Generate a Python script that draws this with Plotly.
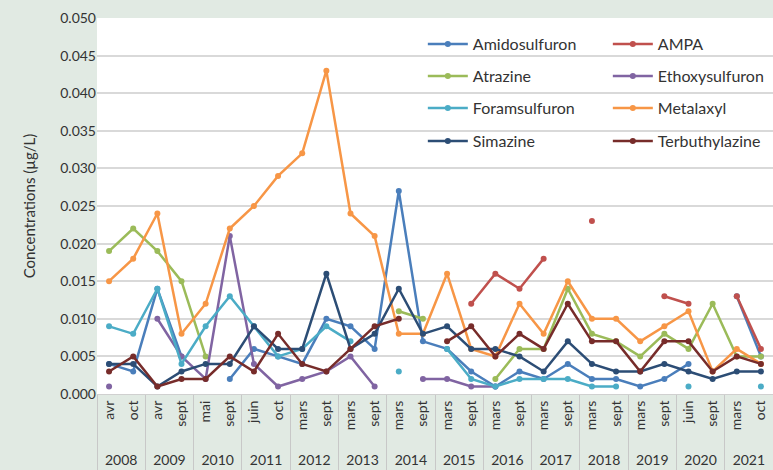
import plotly.graph_objects as go

years = ["2008", "2008", "2009", "2009", "2010", "2010", "2011", "2011", "2012", "2012",
         "2013", "2013", "2014", "2014", "2015", "2015", "2016", "2016", "2017", "2017",
         "2018", "2018", "2019", "2019", "2020", "2020", "2021", "2021"]
months = ["avr", "oct", "avr", "sept", "mai", "sept", "juin", "oct", "mars", "sept",
          "mars", "sept", "mars", "sept", "mars", "sept", "mars", "sept", "mars", "sept",
          "mars", "sept", "mars", "sept", "juin", "sept", "mars", "oct"]
N = None

amidosulfuron = [0.004, 0.003, 0.014, 0.005, N, 0.002, 0.006, 0.005, 0.004, 0.010,
                 0.009, 0.006, 0.027, 0.007, 0.006, 0.003, 0.001, 0.003, 0.002, 0.004,
                 0.002, 0.002, 0.001, 0.002, 0.004, N, 0.013, 0.005]
ampa = [N, N, N, N, N, N, N, N, N, N,
        N, N, N, N, N, 0.012, 0.016, 0.014, 0.018, N,
        0.023, N, N, 0.013, 0.012, N, 0.013, 0.006]
atrazine = [0.019, 0.022, 0.019, 0.015, 0.005, N, N, N, N, N,
            N, N, 0.011, 0.010, N, N, 0.002, 0.006, 0.006, 0.014,
            0.008, 0.007, 0.005, 0.008, 0.006, 0.012, 0.005, 0.005]
ethoxysulfuron = [0.001, N, 0.010, 0.005, 0.002, 0.021, 0.004, 0.001, 0.002, 0.003,
                  0.005, 0.001, N, 0.002, 0.002, 0.001, 0.001, N, N, N,
                  N, N, N, N, N, N, N, N]
foramsulfuron = [0.009, 0.008, 0.014, 0.004, 0.009, 0.013, 0.009, 0.005, 0.006, 0.009,
                 0.007, N, 0.003, N, 0.006, 0.002, 0.001, 0.002, 0.002, 0.002,
                 0.001, 0.001, N, N, 0.001, N, N, 0.001]
metalaxyl = [0.015, 0.018, 0.024, 0.008, 0.012, 0.022, 0.025, 0.029, 0.032, 0.043,
             0.024, 0.021, 0.008, 0.008, 0.016, 0.006, 0.005, 0.012, 0.008, 0.015,
             0.010, 0.010, 0.007, 0.009, 0.011, 0.003, 0.006, 0.004]
simazine = [0.004, 0.004, 0.001, 0.003, 0.004, 0.004, 0.009, 0.006, 0.006, 0.016,
            0.006, 0.008, 0.014, 0.008, 0.009, 0.006, 0.006, 0.005, 0.003, 0.007,
            0.004, 0.003, 0.003, 0.004, 0.003, 0.002, 0.003, 0.003]
terbuthylazine = [0.003, 0.005, 0.001, 0.002, 0.002, 0.005, 0.003, 0.008, 0.004, 0.003,
                  0.006, 0.009, 0.010, N, 0.007, 0.009, 0.005, 0.008, 0.006, 0.012,
                  0.007, 0.007, 0.003, 0.007, 0.007, 0.003, 0.005, 0.004]

series = [
    ("Amidosulfuron", amidosulfuron, "#4a7ebb", "legend"),
    ("AMPA", ampa, "#c0504d", "legend"),
    ("Atrazine", atrazine, "#9bbb59", "legend2"),
    ("Ethoxysulfuron", ethoxysulfuron, "#8064a2", "legend2"),
    ("Foramsulfuron", foramsulfuron, "#4bacc6", "legend3"),
    ("Metalaxyl", metalaxyl, "#f79646", "legend3"),
    ("Simazine", simazine, "#2c4d75", "legend4"),
    ("Terbuthylazine", terbuthylazine, "#772c2a", "legend4"),
]

keys = [f"{m} {y}" for m, y in zip(months, years)]
year_groups = list(dict.fromkeys(years))

FONT = "Lato, Liberation Sans, sans-serif"
TXT = "#333333"
fig = go.Figure()
for name, vals, col, lg in series:
    fig.add_trace(go.Scatter(
        x=keys, y=vals, name=name, mode="lines+markers",
        line=dict(color=col, width=2.5), marker=dict(color=col, size=6),
        connectgaps=False, legend=lg))

# invisible trace registering the year groups on the secondary category axis
fig.add_trace(go.Scatter(x=year_groups, y=[None] * len(year_groups), xaxis="x2",
                         showlegend=False, hoverinfo="skip", mode="markers"))

def leg(yc):
    return dict(orientation="h", x=0.482, xanchor="left", y=yc, yanchor="middle",
                bgcolor="rgba(0,0,0,0)", entrywidth=130, entrywidthmode="pixels",
                font=dict(family=FONT, size=16, color=TXT), itemwidth=40)

ybot = 76 / 452
fig.update_layout(
    width=773, height=470,
    paper_bgcolor="#e1eae3", plot_bgcolor="#ffffff",
    margin=dict(l=97, r=0, t=18, b=0, autoexpand=False),
    font=dict(family=FONT, size=14, color=TXT),
    legend=leg(0.9425), legend2=leg(0.8717), legend3=leg(0.8009), legend4=leg(0.7279),
    shapes=[dict(type="rect", xref="paper", yref="paper", x0=0.4556, x1=1.0,
                 y0=0.6748, y1=0.991, fillcolor="#ffffff", line=dict(width=0),
                 layer="between")],
    yaxis=dict(domain=[ybot, 1], range=[0, 0.050], dtick=0.005, tickformat=".3f",
               showgrid=True, gridcolor="#d9d9d9", gridwidth=1.5,
               zeroline=False, ticks="", automargin=False,
               tickfont=dict(size=14, color=TXT),
               title=dict(text="Concentrations (µg/L)", font=dict(size=15, color=TXT),
                          standoff=20)),
    xaxis=dict(type="category", categoryorder="array", categoryarray=keys,
               range=[-0.5, len(keys) - 0.5], tickmode="array", tickvals=keys,
               ticktext=months, tickangle=-90, showgrid=False, automargin=False,
               showline=True, linecolor="#d0d0d0", linewidth=1, ticks="",
               tickfont=dict(size=14, color=TXT)),
    xaxis2=dict(type="category", overlaying="x", anchor="free", position=ybot,
                side="bottom", categoryorder="array", categoryarray=year_groups,
                range=[-0.5, len(year_groups) - 0.5], tickson="boundaries",
                ticks="outside", ticklen=76, tickcolor="#c8c8c8", tickwidth=1,
                showgrid=False, showline=False, automargin=False,
                ticklabelstandoff=56, tickfont=dict(size=14, color=TXT)),
)

fig.write_html("out.html", config={"displayModeBar": False},
               post_script="document.body.style.margin='0';"
                           "document.body.style.overflow='hidden';")
